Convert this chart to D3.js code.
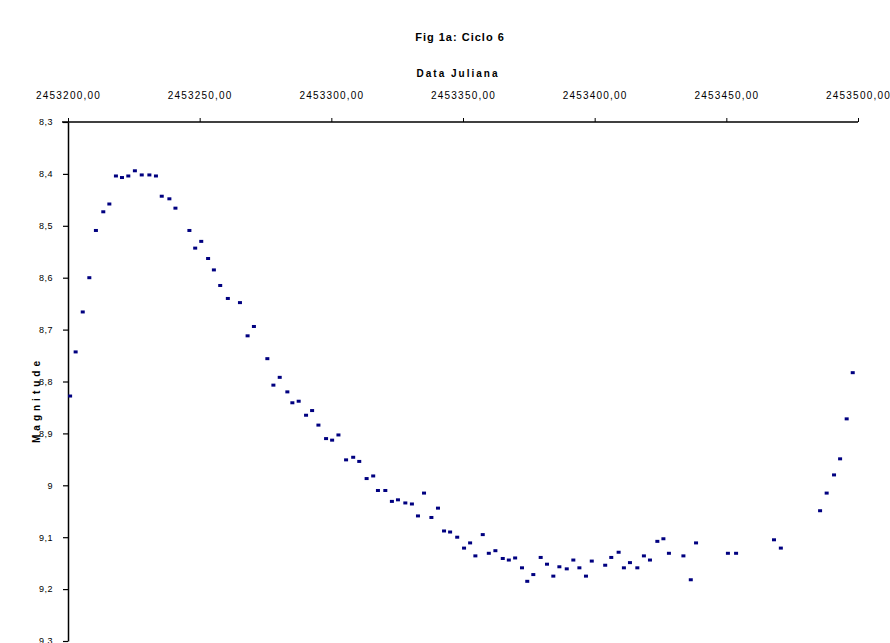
<!DOCTYPE html>
<html><head><meta charset="utf-8">
<script src="https://cdn.jsdelivr.net/npm/d3@7"></script>
<style>body{margin:0;background:#fff}svg{display:block}text{font-family:"Liberation Sans",Arial,sans-serif}</style>
</head><body><svg id="c" width="890" height="643"></svg>
<script>
const title = "Fig 1a: Ciclo 6";
const xTitle = "Data Juliana";
const yTitle = "Magnitude";
const xTicks = [2453200, 2453250, 2453300, 2453350, 2453400, 2453450, 2453500];
const yTicks = [8.3, 8.4, 8.5, 8.6, 8.7, 8.8, 8.9, 9.0, 9.1, 9.2, 9.3];
const jd = [0.8,2.9,5.6,8.1,10.6,13.4,15.7,18.2,20.5,22.9,25.4,28.0,30.9,33.4,35.6,38.5,40.8,46.1,48.3,50.6,
53.2,55.4,57.8,60.7,65.3,68.2,70.6,75.7,78.0,80.4,83.3,85.2,87.6,90.4,92.7,95.1,98.0,100.3,102.7,105.6,
108.3,110.6,113.4,115.9,117.7,120.5,123.0,125.3,128.1,130.6,132.9,135.2,138.0,140.5,142.8,145.1,147.8,150.4,152.7,154.7,
157.5,159.8,162.3,165.1,167.4,169.8,172.4,174.4,176.7,179.5,181.9,184.3,186.6,189.4,191.9,194.2,196.7,198.9,204.0,206.3,
209.1,211.1,213.4,216.2,218.7,221.0,223.8,226.1,228.2,233.7,236.5,238.5,250.6,253.7,268.1,270.7,285.6,288.1,290.9,293.2,
295.7,298.0].map(d => 2453200 + d);
const mag = [8.828,8.743,8.666,8.600,8.509,8.473,8.458,8.404,8.407,8.404,8.394,8.402,8.402,8.404,8.443,8.448,8.466,8.509,8.543,8.530,
8.563,8.585,8.615,8.640,8.648,8.712,8.694,8.756,8.807,8.792,8.820,8.841,8.838,8.865,8.856,8.884,8.910,8.913,8.903,8.951,
8.946,8.954,8.987,8.982,9.010,9.010,9.031,9.028,9.034,9.036,9.059,9.015,9.062,9.044,9.088,9.090,9.100,9.121,9.111,9.136,
9.095,9.131,9.126,9.141,9.144,9.140,9.159,9.185,9.172,9.139,9.152,9.175,9.157,9.161,9.144,9.159,9.175,9.146,9.154,9.139,
9.129,9.159,9.149,9.159,9.136,9.144,9.108,9.103,9.131,9.136,9.182,9.111,9.131,9.131,9.105,9.121,9.049,9.015,8.980,8.949,
8.872,8.783];

const svg = d3.select("#c");
const L = 68, R = 858, T = 122, B = 641;
const x = d3.scaleLinear().domain([xTicks[0], xTicks[xTicks.length-1]]).range([L, R]);
const y = d3.scaleLinear().domain([yTicks[0], yTicks[yTicks.length-1]]).range([T, B]);
const fmt = v => d3.format(".2f")(v).replace(".", ",");
const fmtY = v => { const s = d3.format(".1f")(v); return (s.endsWith(".0") ? s.slice(0,-2) : s).replace(".", ","); };

svg.append("text").attr("x", 460).attr("y", 41).attr("text-anchor","middle")
  .attr("font-size", 11).attr("font-weight","bold").attr("letter-spacing", 1).text(title);
svg.append("text").attr("x", 458).attr("y", 77).attr("text-anchor","middle")
  .attr("font-size", 10).attr("font-weight","bold").attr("letter-spacing", 2).text(xTitle);
svg.append("text").attr("transform","translate(40,400) rotate(-90)").attr("text-anchor","middle")
  .attr("font-size", 10).attr("font-weight","bold").attr("letter-spacing", 4).text(yTitle);

const xa = svg.append("g").attr("transform", `translate(0,${T})`)
  .call(d3.axisTop(x).tickValues(xTicks).tickFormat(fmt).tickSize(4).tickSizeOuter(0).tickPadding(19));
xa.select(".domain").attr("stroke","#000").attr("stroke-width",1.5).attr("d", `M${L-6},0H${R}`);
xa.selectAll("text").attr("font-size", 10).attr("letter-spacing", 1.2).attr("fill","#000");

const ya = svg.append("g").attr("transform", `translate(${L},0)`)
  .call(d3.axisLeft(y).tickValues(yTicks).tickFormat(fmtY).tickSize(5).tickSizeOuter(0).tickPadding(10));
ya.select(".domain").attr("stroke","#000").attr("stroke-width",1.5);
ya.selectAll("line").attr("stroke-width",1.2);
ya.selectAll("text").attr("font-size", 9).attr("letter-spacing", 0.5).attr("fill","#000");

svg.append("g").selectAll("rect").data(jd.map((d,i)=>[d,mag[i]])).join("rect")
  .attr("x", d => x(d[0]) - 2).attr("y", d => y(d[1]) - 1.5)
  .attr("width", 4).attr("height", 3).attr("fill", "#000080");
</script></body></html>
